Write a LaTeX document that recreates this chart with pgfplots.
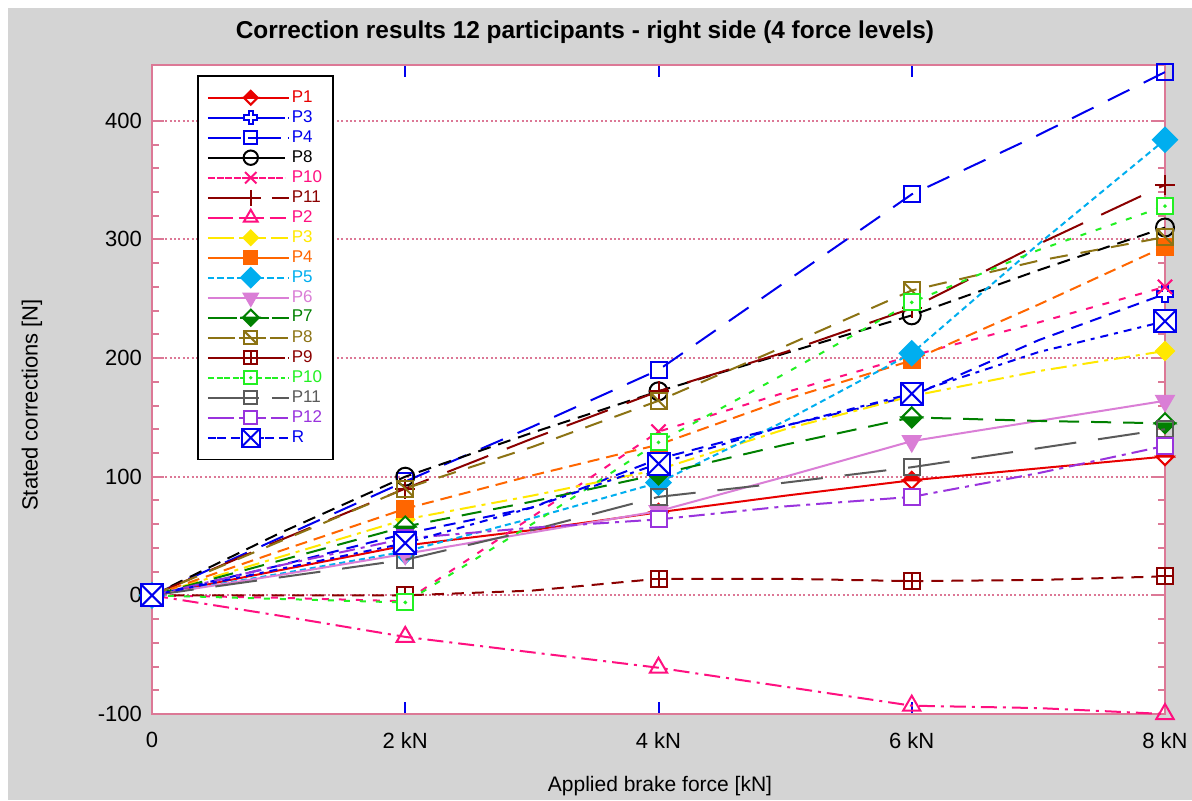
\documentclass[border=0pt]{standalone}
\usepackage{pgfplots}
\pgfplotsset{compat=1.18}
\usepackage{fontspec}
\setmainfont{Liberation Sans}
\usetikzlibrary{plotmarks}

\definecolor{bggray}{HTML}{D4D4D4}
\definecolor{axpink}{HTML}{DC7896}
\definecolor{cred}{HTML}{E80000}
\definecolor{cblue}{HTML}{0000EE}
\definecolor{cpink}{HTML}{FF1080}
\definecolor{cmaroon}{HTML}{8B0000}
\definecolor{cyellow}{HTML}{FFE800}
\definecolor{corange}{HTML}{FF6600}
\definecolor{ccyan}{HTML}{00AEEF}
\definecolor{corchid}{HTML}{DA7ED6}
\definecolor{cgreen}{HTML}{008000}
\definecolor{colive}{HTML}{8C7314}
\definecolor{clime}{HTML}{22F022}
\definecolor{cgray}{HTML}{5A5A5A}
\definecolor{cpurple}{HTML}{9933DD}
\definecolor{axdark}{HTML}{6E6E6E}

% diamond, top half filled with fill colour, bottom half white
\pgfdeclareplotmark{dtop}{%
  \pgfpathmoveto{\pgfqpoint{0pt}{\pgfplotmarksize}}%
  \pgfpathlineto{\pgfqpoint{\pgfplotmarksize}{0pt}}%
  \pgfpathlineto{\pgfqpoint{-\pgfplotmarksize}{0pt}}%
  \pgfpathclose\pgfusepathqfillstroke
  \begin{pgfscope}\pgfsetfillcolor{white}%
  \pgfpathmoveto{\pgfqpoint{0pt}{-\pgfplotmarksize}}%
  \pgfpathlineto{\pgfqpoint{\pgfplotmarksize}{0pt}}%
  \pgfpathlineto{\pgfqpoint{-\pgfplotmarksize}{0pt}}%
  \pgfpathclose\pgfusepathqfillstroke\end{pgfscope}}
% diamond, bottom half filled
\pgfdeclareplotmark{dbot}{%
  \pgfpathmoveto{\pgfqpoint{0pt}{-\pgfplotmarksize}}%
  \pgfpathlineto{\pgfqpoint{\pgfplotmarksize}{0pt}}%
  \pgfpathlineto{\pgfqpoint{-\pgfplotmarksize}{0pt}}%
  \pgfpathclose\pgfusepathqfillstroke
  \begin{pgfscope}\pgfsetfillcolor{white}%
  \pgfpathmoveto{\pgfqpoint{0pt}{\pgfplotmarksize}}%
  \pgfpathlineto{\pgfqpoint{\pgfplotmarksize}{0pt}}%
  \pgfpathlineto{\pgfqpoint{-\pgfplotmarksize}{0pt}}%
  \pgfpathclose\pgfusepathqfillstroke\end{pgfscope}}
% full diamond (equal width and height)
\pgfdeclareplotmark{dfull}{%
  \pgfpathmoveto{\pgfqpoint{0pt}{\pgfplotmarksize}}%
  \pgfpathlineto{\pgfqpoint{\pgfplotmarksize}{0pt}}%
  \pgfpathlineto{\pgfqpoint{0pt}{-\pgfplotmarksize}}%
  \pgfpathlineto{\pgfqpoint{-\pgfplotmarksize}{0pt}}%
  \pgfpathclose\pgfusepathqfillstroke}
% outlined plus
\pgfdeclareplotmark{pluso}{%
  \pgfpathmoveto{\pgfqpoint{0.35\pgfplotmarksize}{\pgfplotmarksize}}%
  \pgfpathlineto{\pgfqpoint{0.35\pgfplotmarksize}{0.35\pgfplotmarksize}}%
  \pgfpathlineto{\pgfqpoint{\pgfplotmarksize}{0.35\pgfplotmarksize}}%
  \pgfpathlineto{\pgfqpoint{\pgfplotmarksize}{-0.35\pgfplotmarksize}}%
  \pgfpathlineto{\pgfqpoint{0.35\pgfplotmarksize}{-0.35\pgfplotmarksize}}%
  \pgfpathlineto{\pgfqpoint{0.35\pgfplotmarksize}{-\pgfplotmarksize}}%
  \pgfpathlineto{\pgfqpoint{-0.35\pgfplotmarksize}{-\pgfplotmarksize}}%
  \pgfpathlineto{\pgfqpoint{-0.35\pgfplotmarksize}{-0.35\pgfplotmarksize}}%
  \pgfpathlineto{\pgfqpoint{-\pgfplotmarksize}{-0.35\pgfplotmarksize}}%
  \pgfpathlineto{\pgfqpoint{-\pgfplotmarksize}{0.35\pgfplotmarksize}}%
  \pgfpathlineto{\pgfqpoint{-0.35\pgfplotmarksize}{0.35\pgfplotmarksize}}%
  \pgfpathlineto{\pgfqpoint{-0.35\pgfplotmarksize}{\pgfplotmarksize}}%
  \pgfpathclose\pgfusepathqfillstroke}
% square with diagonal
\pgfdeclareplotmark{sqdiag}{%
  \pgfpathrectanglecorners{\pgfqpoint{-\pgfplotmarksize}{-\pgfplotmarksize}}{\pgfqpoint{\pgfplotmarksize}{\pgfplotmarksize}}%
  \pgfusepathqstroke
  \pgfpathmoveto{\pgfqpoint{-\pgfplotmarksize}{\pgfplotmarksize}}%
  \pgfpathlineto{\pgfqpoint{\pgfplotmarksize}{-\pgfplotmarksize}}%
  \pgfusepathqstroke}
% square with plus
\pgfdeclareplotmark{sqplus}{%
  \pgfpathrectanglecorners{\pgfqpoint{-\pgfplotmarksize}{-\pgfplotmarksize}}{\pgfqpoint{\pgfplotmarksize}{\pgfplotmarksize}}%
  \pgfusepathqfillstroke
  \pgfpathmoveto{\pgfqpoint{-\pgfplotmarksize}{0pt}}%
  \pgfpathlineto{\pgfqpoint{\pgfplotmarksize}{0pt}}%
  \pgfpathmoveto{\pgfqpoint{0pt}{-\pgfplotmarksize}}%
  \pgfpathlineto{\pgfqpoint{0pt}{\pgfplotmarksize}}%
  \pgfusepathqstroke}
% square with dot
\pgfdeclareplotmark{sqdot}{%
  \pgfpathrectanglecorners{\pgfqpoint{-\pgfplotmarksize}{-\pgfplotmarksize}}{\pgfqpoint{\pgfplotmarksize}{\pgfplotmarksize}}%
  \pgfusepathqfillstroke
  \pgfpathcircle{\pgfpointorigin}{0.3pt}%
  \pgfusepathqstroke}
% square with X
\pgfdeclareplotmark{sqx}{%
  \pgfpathrectanglecorners{\pgfqpoint{-\pgfplotmarksize}{-\pgfplotmarksize}}{\pgfqpoint{\pgfplotmarksize}{\pgfplotmarksize}}%
  \pgfusepathqfillstroke
  \pgfpathmoveto{\pgfqpoint{-\pgfplotmarksize}{-\pgfplotmarksize}}%
  \pgfpathlineto{\pgfqpoint{\pgfplotmarksize}{\pgfplotmarksize}}%
  \pgfpathmoveto{\pgfqpoint{-\pgfplotmarksize}{\pgfplotmarksize}}%
  \pgfpathlineto{\pgfqpoint{\pgfplotmarksize}{-\pgfplotmarksize}}%
  \pgfusepathqstroke}

\begin{document}
\begin{tikzpicture}
\path[use as bounding box] (-76pt,-43pt) rectangle (520pt,357pt);
\fill[white] (-76pt,-43pt) rectangle (520pt,357pt);
\fill[bggray] (-72pt,-43pt) rectangle (520pt,353pt);
\begin{axis}[
  at={(0pt,0pt)}, anchor=south west,
  width=506.5pt, height=324.5pt, scale only axis,
  xmin=0, xmax=8, ymin=-100, ymax=447,
  xtick={0,2,4,6,8}, xticklabels={0,2 kN,4 kN,6 kN,8 kN},
  ytick={-100,0,100,200,300,400}, yticklabels={-100,0,100,200,300,400},
  minor y tick num=4,
  tick align=inside,
  major tick length=6pt, minor tick length=3.5pt,
  xtick style={draw=cblue, line width=1pt},
  ytick style={draw=axpink, line width=1pt},
  minor tick style={draw=axpink, line width=1pt},
  ymajorgrids,
  grid style={axpink, line width=1pt, dash pattern=on 1pt off 1.2pt},
  x axis line style={draw=axdark, line width=1.2pt},
  y axis line style={draw=axpink, line width=1pt},
  axis background/.style={fill=white},
  tick label style={font=\fontsize{11}{13}\selectfont},
  xticklabel style={yshift=-5.5pt},
  yticklabel style={xshift=-1.5pt},
  clip mode=individual,
  every axis plot/.append style={line width=1pt, mark repeat=2},
  legend style={at={(0.0444,0.9846)}, anchor=north west, draw=black,
    line width=0.8pt, font=\fontsize{8.5}{10}\selectfont,
    cells={anchor=west}, inner xsep=4.5pt, inner ysep=6pt,
    nodes={inner sep=1.3pt, inner xsep=1pt}},
  legend image code/.code={\path (0pt,0pt) -- (40.5pt,0pt);
    \draw[#1,mark repeat=2,mark phase=2,every mark/.append style={scale=0.8}] plot coordinates {(4.5pt,0pt) (21.5pt,0pt) (38.5pt,0pt)};},
]
% P1
\addplot[cred, solid, mark=dtop, mark size=4.3pt, mark options={solid, fill=cred}]
 coordinates {(0,0)(1,21)(2,42)(3,55)(4,70)(5,84)(6,97)(7,107)(8,117)};
\addlegendentry{\textcolor{cred}{P1}}
% P3 blue
\addplot[cblue, dash pattern=on 6pt off 4pt, mark=pluso, mark size=4pt, mark options={solid, fill=white}]
 coordinates {(0,0)(1,25)(2,52)(3,74)(4,115)(5,143)(6,168)(7,215)(8,254)};
\addlegendentry{\textcolor{cblue}{P3}}
% P4 blue
\addplot[cblue, dash pattern=on 12pt off 8pt, mark=square, mark size=4pt, mark options={solid}]
 coordinates {(0,0)(1,48)(2,96)(3,142)(4,190)(5,264)(6,338)(7,388)(8,441)};
\addlegendentry{\textcolor{cblue}{P4}}
% P8 black
\addplot[black, dash pattern=on 6.5pt off 4pt, mark=o, mark size=4.5pt, mark options={solid}]
 coordinates {(0,0)(1,52)(2,100)(3,137)(4,172)(5,204)(6,236)(7,274)(8,310)};
\addlegendentry{\textcolor{black}{P8}}
% P10 pink
\addplot[cpink, dash pattern=on 3.5pt off 5pt, mark=x, mark size=5pt, mark options={solid}]
 coordinates {(0,0)(1,-2)(2,-5)(3,66)(4,138)(5,171)(6,202)(7,230)(8,260)};
\addlegendentry{\textcolor{cpink}{P10}}
% P11 maroon
\addplot[cmaroon, dash pattern=on 22pt off 10pt, mark=+, mark size=5pt, mark options={solid}]
 coordinates {(0,0)(1,46)(2,90)(3,132)(4,172)(5,205)(6,242)(7,296)(8,346)};
\addlegendentry{\textcolor{cmaroon}{P11}}
% P2 pink
\addplot[cpink, dash pattern=on 8pt off 3pt on 1.5pt off 3pt, mark=triangle, mark size=5pt, mark options={solid, fill=white}]
 coordinates {(0,0)(1,-17)(2,-35)(3,-48)(4,-61)(5,-77)(6,-93)(7,-95)(8,-100)};
\addlegendentry{\textcolor{cpink}{P2}}
% P3 yellow
\addplot[cyellow, dash pattern=on 8pt off 3pt on 2pt off 3pt, mark=dfull, mark size=4.5pt, mark options={solid, fill=cyellow}]
 coordinates {(0,0)(1,32)(2,64)(3,84)(4,106)(5,140)(6,168)(7,189)(8,206)};
\addlegendentry{\textcolor{cyellow}{P3}}
% P4 orange
\addplot[corange, dash pattern=on 6pt off 3.5pt, mark=square*, mark size=4pt, mark options={solid, fill=corange}]
 coordinates {(0,0)(1,37)(2,73)(3,101)(4,127)(5,165)(6,198)(7,245)(8,294)};
\addlegendentry{\textcolor{corange}{P4}}
% P5 cyan
\addplot[ccyan, dash pattern=on 3pt off 2pt, mark=dfull, mark size=6pt, mark options={solid, fill=ccyan}]
 coordinates {(0,0)(1,18)(2,37)(3,65)(4,95)(5,147)(6,204)(7,296)(8,384)};
\addlegendentry{\textcolor{ccyan}{P5}}
% P6 orchid
\addplot[corchid, solid, mark=triangle*, mark size=5pt, mark options={solid, fill=corchid, rotate=180}]
 coordinates {(0,0)(1,17)(2,35)(3,53)(4,71)(5,100)(6,130)(7,147)(8,164)};
\addlegendentry{\textcolor{corchid}{P6}}
% P7 green
\addplot[cgreen, dash pattern=on 10pt off 6pt, mark=dbot, mark size=5pt, mark options={solid, fill=cgreen}]
 coordinates {(0,0)(1,29)(2,58)(3,79)(4,102)(5,127)(6,150)(7,147)(8,145)};
\addlegendentry{\textcolor{cgreen}{P7}}
% P8 olive
\addplot[colive, dash pattern=on 9pt off 6.5pt, mark=sqdiag, mark size=4pt, mark options={solid}]
 coordinates {(0,0)(1,45)(2,90)(3,125)(4,164)(5,210)(6,257)(7,282)(8,302)};
\addlegendentry{\textcolor{colive}{P8}}
% P9 maroon
\addplot[cmaroon, dash pattern=on 6pt off 4pt, mark=sqplus, mark size=4pt, mark options={solid, fill=white}]
 coordinates {(0,0)(1,0)(2,0)(3,4)(4,14)(5,14)(6,12)(7,13)(8,16)};
\addlegendentry{\textcolor{cmaroon}{P9}}
% P10 lime
\addplot[clime, dash pattern=on 3pt off 5pt, mark=sqdot, mark size=4pt, mark options={solid, fill=white}]
 coordinates {(0,0)(1,-3)(2,-6)(3,60)(4,129)(5,187)(6,247)(7,291)(8,328)};
\addlegendentry{\textcolor{clime}{P10}}
% P11 gray
\addplot[cgray, dash pattern=on 21pt off 11pt, mark=square, mark size=4pt, mark options={solid}]
 coordinates {(0,0)(1,15)(2,30)(3,55)(4,83)(5,95)(6,108)(7,124)(8,140)};
\addlegendentry{\textcolor{cgray}{P11}}
% P12 purple
\addplot[cpurple, dash pattern=on 8pt off 3pt on 2pt off 3pt, mark=square*, mark size=4pt, mark options={solid, fill=white}]
 coordinates {(0,0)(1,25)(2,48)(3,57)(4,64)(5,75)(6,83)(7,103)(8,126)};
\addlegendentry{\textcolor{cpurple}{P12}}
% R
\addplot[cblue, dash pattern=on 4pt off 3pt on 2pt off 3pt, mark=sqx, mark size=5.5pt, mark options={solid, fill=white}]
 coordinates {(0,0)(1,22)(2,44)(3,74)(4,111)(5,143)(6,170)(7,205)(8,231)};
\addlegendentry{\textcolor{cblue}{R}}
\end{axis}
\node[font=\bfseries\fontsize{12.2}{14}\selectfont] at (216.5pt,341pt) {Correction results 12 participants - right side (4 force levels)};
\node[rotate=90, font=\fontsize{11}{13}\selectfont] at (-60pt,154.5pt) {Stated corrections [N]};
\node[font=\fontsize{10.5}{12}\selectfont] at (254pt,-36pt) {Applied brake force [kN]};
\end{tikzpicture}
\end{document}
